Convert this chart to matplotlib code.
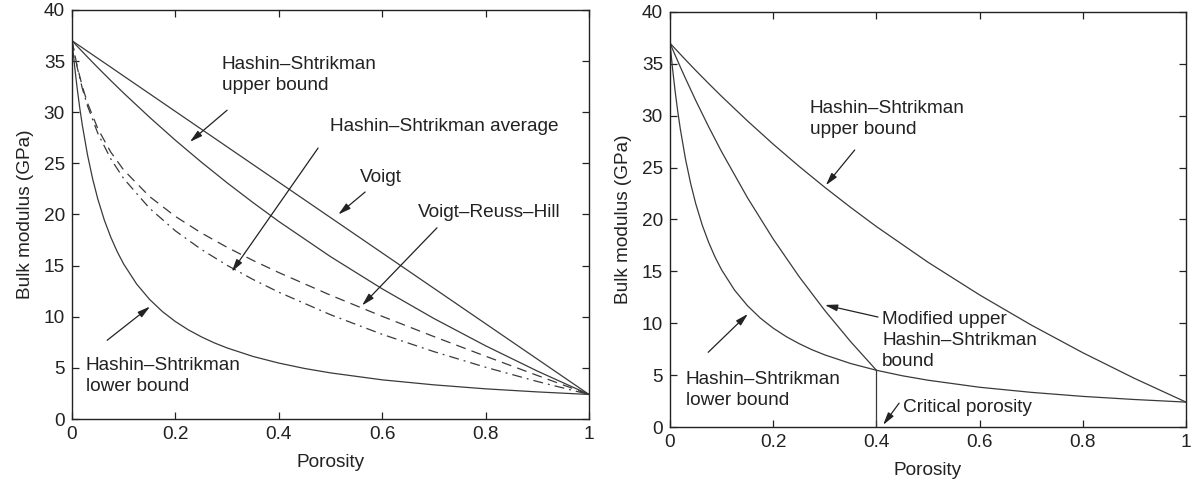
import matplotlib
matplotlib.use("Agg")
import matplotlib.pyplot as plt

plt.rcParams['font.family'] = ['Liberation Sans', 'DejaVu Sans']

# Porosity sample points
porosity = [0, 0.01, 0.02, 0.03, 0.05, 0.075, 0.1, 0.15, 0.2, 0.25, 0.3, 0.35,
            0.4, 0.5, 0.6, 0.7, 0.8, 0.9, 1.0]

# Bulk modulus values (GPa)
voigt = [37, 36.65, 36.31, 35.96, 35.27, 34.41, 33.54, 31.81, 30.08, 28.35, 26.62,
         24.89, 23.16, 19.70, 16.24, 12.78, 9.32, 5.86, 2.40]
hs_upper = [37, 36.46, 35.93, 35.40, 34.36, 33.10, 31.87, 29.51, 27.26, 25.13, 23.10,
            21.17, 19.32, 15.88, 12.73, 9.83, 7.16, 4.69, 2.40]
vrh = [37, 34.50, 32.52, 30.90, 28.39, 26.10, 24.35, 21.76, 19.81, 18.20, 16.79,
       15.51, 14.32, 12.11, 10.04, 8.06, 6.14, 4.26, 2.40]
hs_average = [37, 34.40, 32.33, 30.62, 27.93, 25.44, 23.51, 20.61, 18.40, 16.59, 15.03,
              13.65, 12.40, 10.20, 8.28, 6.59, 5.06, 3.67, 2.40]

# Lower bound (sharply curved, read at more porosities)
lower_porosity = [0, 0.005, 0.01, 0.015, 0.02, 0.03, 0.04, 0.05, 0.0625, 0.075, 0.0875,
                  0.1, 0.125, 0.15, 0.175, 0.2, 0.225, 0.25, 0.275, 0.3, 0.35, 0.4,
                  0.45, 0.5, 0.6, 0.7, 0.8, 0.9, 1.0]
hs_lower = [37, 34.51, 32.34, 30.42, 28.72, 25.83, 23.47, 21.50, 19.46, 17.78, 16.36,
            15.15, 13.20, 11.70, 10.50, 9.53, 8.72, 8.04, 7.45, 6.95, 6.12, 5.47,
            4.94, 4.51, 3.83, 3.34, 2.95, 2.65, 2.40]

# Modified upper Hashin-Shtrikman bound (up to critical porosity)
mod_porosity = [0, 0.01, 0.02, 0.03, 0.05, 0.075, 0.1, 0.15, 0.2, 0.25, 0.3, 0.35, 0.4]
mod_upper = [37, 35.84, 34.70, 33.60, 31.46, 28.93, 26.53, 22.11, 18.12, 14.51, 11.23,
             8.23, 5.47]
critical_porosity = 0.4
critical_modulus = 5.47

xticks = [0, 0.2, 0.4, 0.6, 0.8, 1]
xticklabels = ['0', '0.2', '0.4', '0.6', '0.8', '1']
yticks = [0, 5, 10, 15, 20, 25, 30, 35, 40]

LC = '#3a3a3a'
TC = '#222222'
LW = 0.9
FS = 13.7

fig = plt.figure(figsize=(11.94, 4.90), dpi=100)
W, H = 1194, 490
ax1 = fig.add_axes([72 / W, (H - 419) / H, 517 / W, 409 / H])
ax2 = fig.add_axes([670 / W, (H - 427) / H, 516 / W, 415 / H])

for ax in (ax1, ax2):
    ax.set_xlim(0, 1)
    ax.set_ylim(0, 40)
    ax.set_xticks(xticks)
    ax.set_xticklabels(xticklabels)
    ax.set_yticks(yticks)
    ax.tick_params(direction='in', top=True, right=True, length=5, width=0.9,
                   labelsize=FS, colors=TC, pad=5)
    for s in ax.spines.values():
        s.set_linewidth(1.0)
        s.set_color(TC)
    ax.set_xlabel('Porosity', fontsize=FS, color=TC, labelpad=8)
    ax.set_ylabel('Bulk modulus (GPa)', fontsize=FS, color=TC, labelpad=7)

arrow = dict(arrowstyle='-|>,head_length=0.75,head_width=0.2', color=TC,
             lw=0.9, shrinkA=0, shrinkB=0)

def note(ax, text, xy, xytext, textpos):
    ax.annotate('', xy=xy, xytext=xytext, arrowprops=arrow)
    ax.text(textpos[0], textpos[1], text, fontsize=FS, color=TC,
            ha='left', va='center', linespacing=1.3)

# Left panel
ax1.plot(porosity, voigt, color=LC, lw=LW)
ax1.plot(porosity, hs_upper, color=LC, lw=LW)
ax1.plot(lower_porosity, hs_lower, color=LC, lw=LW)
ax1.plot(porosity, vrh, color=LC, lw=LW, dashes=(8, 5))
ax1.plot(porosity, hs_average, color=LC, lw=LW, dashes=(8, 4, 1.5, 4))

note(ax1, 'Hashin\u2013Shtrikman\nupper bound', (0.228, 27.1), (0.30, 30.2), (0.29, 33.6))
note(ax1, 'Hashin\u2013Shtrikman average', (0.309, 14.4), (0.476, 26.5), (0.50, 28.6))
note(ax1, 'Voigt', (0.515, 20.0), (0.567, 22.2), (0.557, 23.6))
note(ax1, 'Voigt\u2013Reuss\u2013Hill', (0.561, 11.1), (0.706, 18.7), (0.669, 20.2))
note(ax1, 'Hashin\u2013Shtrikman\nlower bound', (0.151, 11.0), (0.068, 7.7), (0.027, 4.2))

# Right panel
ax2.plot(porosity, hs_upper, color=LC, lw=LW)
ax2.plot(lower_porosity, hs_lower, color=LC, lw=LW)
ax2.plot(mod_porosity, mod_upper, color=LC, lw=LW)
ax2.plot([critical_porosity, critical_porosity], [0, critical_modulus], color=LC, lw=LW)

note(ax2, 'Hashin\u2013Shtrikman\nupper bound', (0.302, 23.3), (0.358, 26.7), (0.271, 29.7))
note(ax2, 'Modified upper\nHashin\u2013Shtrikman\nbound', (0.300, 11.76), (0.403, 10.6), (0.411, 8.3))
note(ax2, 'Hashin\u2013Shtrikman\nlower bound', (0.151, 10.9), (0.074, 7.2), (0.031, 3.6))
note(ax2, 'Critical porosity', (0.413, 0.2), (0.444, 2.3), (0.452, 1.9))

fig.savefig('out.png', dpi=100)
